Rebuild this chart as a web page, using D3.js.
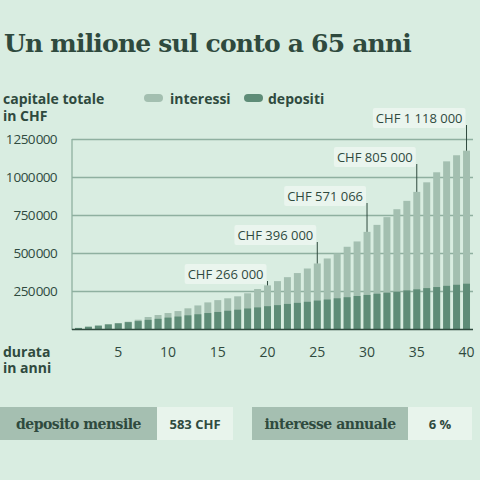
<!DOCTYPE html><html><head><meta charset="utf-8"><script src="https://cdn.jsdelivr.net/npm/d3@7"></script>
<style>body{margin:0;background:#d9ede1}</style></head><body><svg id="c" width="480" height="480"></svg><script>
const years=d3.range(1,41);
const totals=[7,14,22,31,39,48,61,79,92,105,118,136,155,175,190,202,215,235,263,287,315,341,368,398,431,464,497,541,576,639,685,736,788,843,902,965,1031,1103,1143,1173].map(v=>v*1000);
const deposits=[7,15,22,30,37,45,52,60,67,75,82,90,97,105,112,120,127,135,142,150,157,165,172,179,187,194,202,209,217,224,232,239,246,254,261,269,276,284,291,298].map(v=>v*1000);
const yTicks=[250000,500000,750000,1000000,1250000];
const xTicks=[5,10,15,20,25,30,35,40];
const notes=[[20,"CHF 266 000"],[25,"CHF 396 000"],[30,"CHF 571 066"],[35,"CHF 805 000"],[40,"CHF 1 118 000"]];
const svg=d3.select("#c");const F="'Source Sans Pro','Open Sans',sans-serif";
svg.append("rect").attr("width",480).attr("height",480).attr("fill","#d9ede1");
svg.append("text").attr("x",4).attr("y",52).attr("font-family","'DejaVu Serif',serif").attr("font-weight","bold").attr("font-size",25).attr("fill","#2f4a3e").attr("letter-spacing",-0.8).text("Un milione sul conto a 65 anni");
const x=d3.scaleBand().domain(years).range([74,471]).paddingInner(0.3).paddingOuter(0.1);
const y=d3.scaleLinear().domain([0,1250000]).range([329,139]);
const fmt=v=>d3.format(",")(v).replace(/,/g,"\u200A");
const g=svg.append("g");
g.append("g").attr("transform","translate(72,0)").call(d3.axisRight(y).tickValues(yTicks).tickSize(401).tickFormat(""))
 .call(a=>{a.select(".domain").remove();a.selectAll("line").attr("stroke","#8fb0a0").attr("stroke-width",1.3);});
g.append("line").attr("x1",72).attr("x2",72).attr("y1",139).attr("y2",330).attr("stroke","#8fb0a0").attr("stroke-width",1.3);
yTicks.forEach(t=>g.append("text").attr("x",57).attr("y",y(t)+5).attr("text-anchor","end").attr("font-family",F).attr("font-size",13.5).attr("letter-spacing",-0.6).attr("fill","#2f4a3e").text(fmt(t)));
g.selectAll(".t").data(years).join("rect").attr("x",d=>x(d)).attr("width",x.bandwidth()).attr("y",(d,i)=>y(totals[i])).attr("height",(d,i)=>y(0)-y(totals[i])).attr("fill","#a3bfb0");
g.selectAll(".d").data(years).join("rect").attr("x",d=>x(d)).attr("width",x.bandwidth()).attr("y",(d,i)=>y(deposits[i])).attr("height",(d,i)=>y(0)-y(deposits[i])).attr("fill","#5e8c77");
g.append("line").attr("x1",72).attr("x2",473).attr("y1",329.5).attr("y2",329.5).attr("stroke","#2f4a3e").attr("stroke-width",1.5);
xTicks.forEach(t=>g.append("text").attr("x",x(t)+x.bandwidth()/2).attr("y",357).attr("text-anchor","middle").attr("font-family",F).attr("font-size",14).attr("fill","#2f4a3e").text(t));
notes.forEach(([yr,lab],k)=>{const cx=x(yr)+x.bandwidth()/2;const ty=274-k*39;
 const ng=g.append("g");const bg=ng.append("rect");
 const t=ng.append("text").attr("x",cx-4).attr("y",ty+5).attr("text-anchor","end").attr("font-family",F).attr("font-size",13).attr("fill","#2f4a3e").text(lab);
 const b=t.node().getBBox();bg.attr("x",b.x-3).attr("y",b.y-1).attr("width",b.width+6).attr("height",b.height+2).attr("rx",2).attr("fill","#eaf5ee");
 ng.append("line").attr("x1",cx).attr("x2",cx).attr("y1",ty+7).attr("y2",y(totals[yr-1])).attr("stroke","#2f4a3e");});
const lab=(t,xx,yy)=>svg.append("text").attr("x",xx).attr("y",yy).attr("font-family",F).attr("font-weight","bold").attr("font-size",14).attr("fill","#2f4a3e").text(t);
lab("capitale totale",3,104);lab("in CHF",3,121);lab("durata",3,357);lab("in anni",3,373);
svg.append("rect").attr("x",144).attr("y",94).attr("width",19).attr("height",8).attr("rx",4).attr("fill","#a3bfb0");lab("interessi",170,104);
svg.append("rect").attr("x",244).attr("y",94).attr("width",19).attr("height",8).attr("rx",4).attr("fill","#5e8c77");lab("depositi",268,104);
const box=(x0,w1,w2,t1,t2)=>{svg.append("rect").attr("x",x0).attr("y",407).attr("width",w1).attr("height",33).attr("fill","#a5bfb1");
 svg.append("rect").attr("x",x0+w1).attr("y",407).attr("width",w2).attr("height",33).attr("fill","#e8f4ec");
 svg.append("text").attr("x",x0+w1/2).attr("y",429).attr("text-anchor","middle").attr("font-family","'DejaVu Serif',serif").attr("font-weight","bold").attr("font-size",14).attr("letter-spacing",-0.5).attr("fill","#2f4a3e").text(t1);
 svg.append("text").attr("x",x0+w1+w2/2).attr("y",429).attr("text-anchor","middle").attr("font-family",F).attr("font-weight","bold").attr("font-size",13).attr("fill","#2f4a3e").text(t2);};
box(0,157,76,"deposito mensile","583 CHF");box(252,156,64,"interesse annuale","6 %");
</script></body></html>
